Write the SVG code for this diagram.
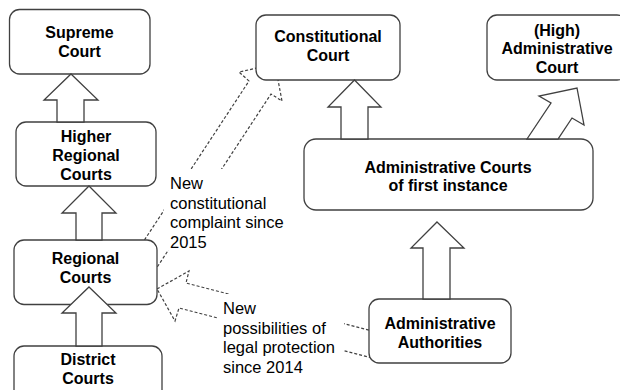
<svg xmlns="http://www.w3.org/2000/svg" width="620" height="390" viewBox="0 0 620 390">
<style>
.box{fill:#fff;stroke:#404040;stroke-width:1.3}
.arr{fill:#fff;stroke:#404040;stroke-width:1.3;stroke-linejoin:miter}
.dash{fill:none;stroke:#404040;stroke-width:1.2;stroke-dasharray:3 2}
.bg{fill:#fff;stroke:none}
.t{font-family:"Liberation Sans",Arial,sans-serif;font-size:16px;font-weight:bold;fill:#000;text-anchor:middle}
.l{font-family:"Liberation Sans",Arial,sans-serif;font-size:16.5px;fill:#000}
</style>
<rect width="620" height="390" fill="#fff"/>
<g id="connectors">
  <polygon id="dash-constitutional" class="dash" points="128,265 249,81 239,72 275,64 282,101 271,94 150,278"/>
  <polygon id="dash-protection" class="dash" points="157,289 189,271 186,283 380,333 380,360 179,308 175,321"/>
</g>
<g id="label-complaint">
  <rect class="bg" x="164" y="169" width="125" height="81"/>
  <text class="l" x="170" y="189">New</text>
  <text class="l" x="170" y="208.5">constitutional</text>
  <text class="l" x="170" y="228">complaint since</text>
  <text class="l" x="170" y="247.5">2015</text>
</g>
<g id="label-protection">
  <rect class="bg" x="217" y="294" width="127" height="82"/>
  <text class="l" x="223" y="314">New</text>
  <text class="l" x="223" y="333.5">possibilities of</text>
  <text class="l" x="223" y="353">legal protection</text>
  <text class="l" x="223" y="372.5">since 2014</text>
</g>
<g id="supreme">
  <rect class="box" x="9.5" y="9.5" width="140.5" height="64.5" rx="10"/>
  <text class="t" x="79.5" y="37.5">Supreme</text>
  <text class="t" x="79.5" y="56.5">Court</text>
</g>
<g id="higher-regional">
  <rect class="box" x="16" y="122" width="140" height="64" rx="10"/>
  <text class="t" x="86" y="141.5">Higher</text>
  <text class="t" x="86" y="160.5">Regional</text>
  <text class="t" x="86" y="179.5">Courts</text>
</g>
<g id="regional">
  <rect class="box" x="14" y="240" width="143" height="64.5" rx="10"/>
  <text class="t" x="85.5" y="264">Regional</text>
  <text class="t" x="85.5" y="283">Courts</text>
</g>
<g id="district">
  <rect class="box" x="14" y="346" width="148" height="64" rx="10"/>
  <text class="t" x="88" y="365">District</text>
  <text class="t" x="88" y="384">Courts</text>
</g>
<g id="constitutional">
  <rect class="box" x="256" y="15" width="144" height="65" rx="10"/>
  <text class="t" x="328" y="42">Constitutional</text>
  <text class="t" x="328" y="61">Court</text>
</g>
<g id="high-administrative">
  <rect class="box" x="487" y="15" width="140" height="65" rx="10"/>
  <text class="t" x="557" y="35.5">(High)</text>
  <text class="t" x="557" y="54">Administrative</text>
  <text class="t" x="557" y="73">Court</text>
</g>
<g id="admin-courts">
  <rect class="box" x="304" y="139" width="289" height="71" rx="12"/>
  <text class="t" x="448" y="172.5">Administrative Courts</text>
  <text class="t" x="448" y="191">of first instance</text>
</g>
<g id="admin-authorities">
  <rect class="box" x="369" y="299" width="142" height="64" rx="10"/>
  <text class="t" x="440" y="328.5">Administrative</text>
  <text class="t" x="440" y="347.5">Authorities</text>
</g>
<g id="arrows">
  <polygon class="arr" points="71,74 98,100 84,100 84,122 57,122 57,100 44,100"/>
  <polygon class="arr" points="89,186 116,213 102,213 102,240 76,240 76,213 62,213"/>
  <polygon class="arr" points="89,287 116,313 102,313 102,346 76,346 76,313 62,313"/>
  <polygon class="arr" points="354.5,80 381,107 368,107 368,139 341,139 341,107 328,107"/>
  <polygon class="arr" points="437,222 464,248 450,248 450,299 423,299 423,248 411,248"/>
  <polygon class="arr" points="577,88 584,125 572,118 558,139 527,139 551,103 539,96"/>
</g>
</svg>
